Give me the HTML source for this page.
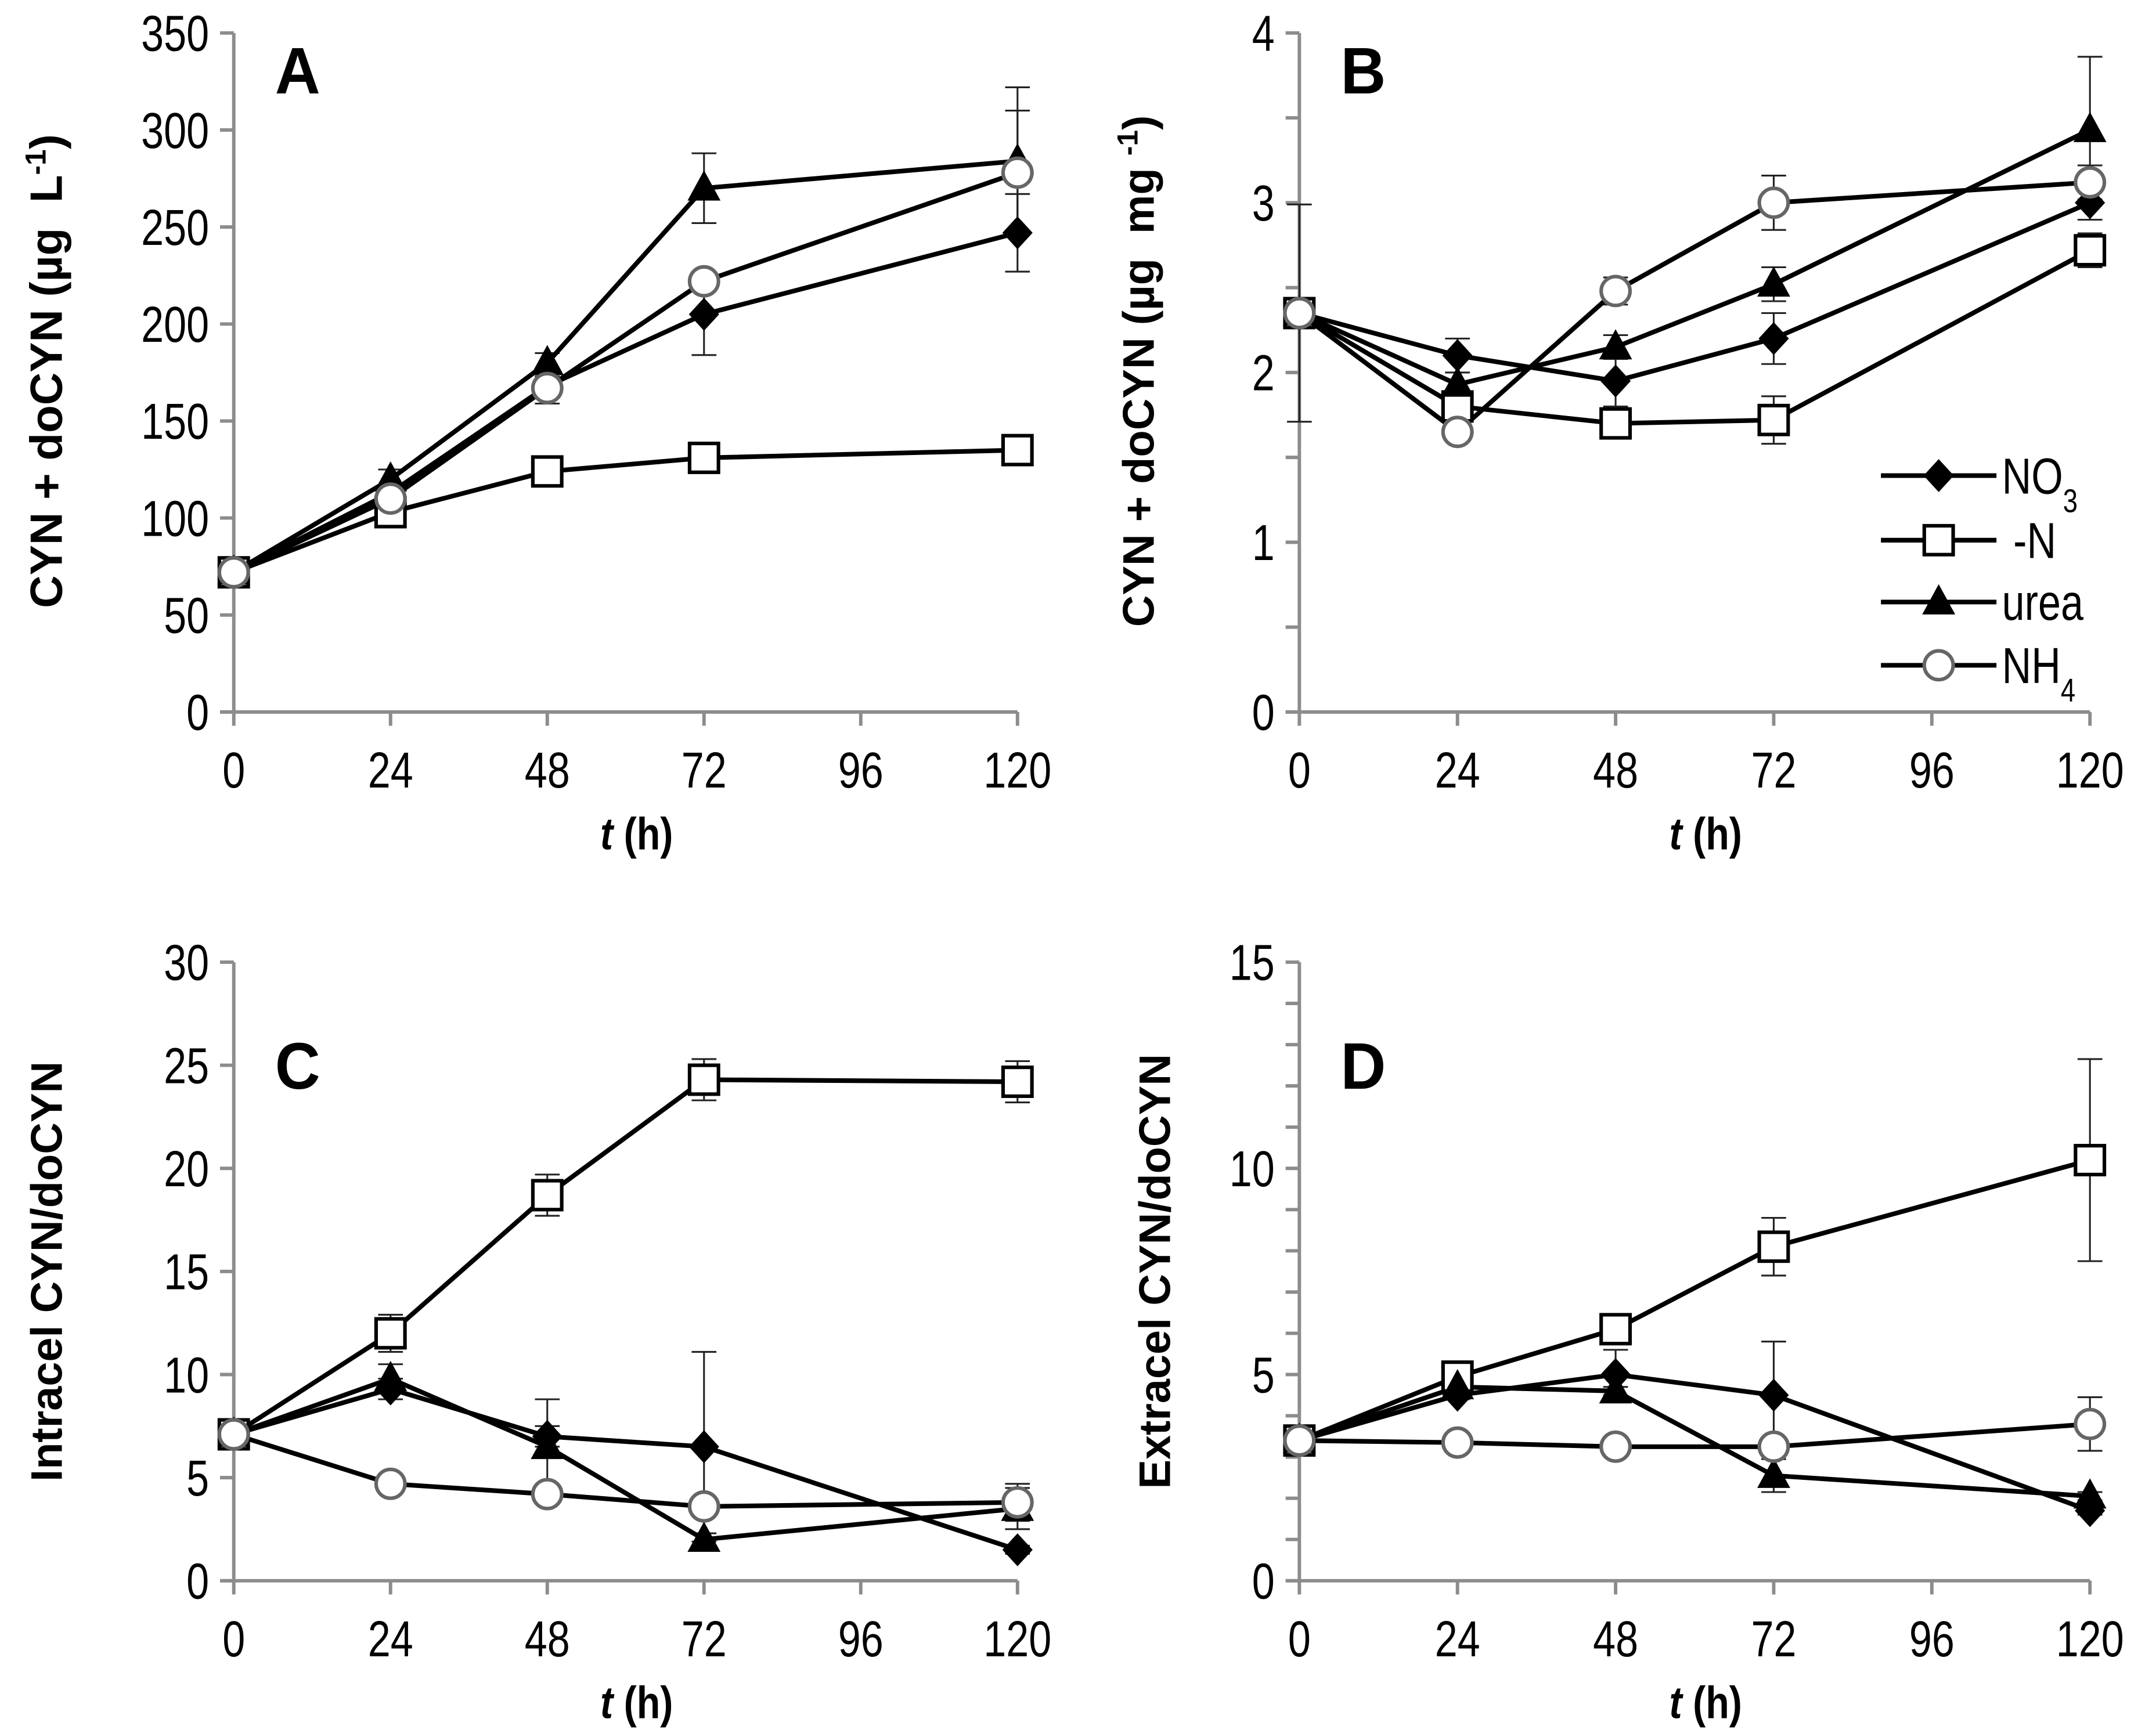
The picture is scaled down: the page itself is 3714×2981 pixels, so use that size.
<!DOCTYPE html>
<html><head><meta charset="utf-8"><style>
html,body{margin:0;padding:0;background:#fff;}
svg{display:block;}
text{font-family:"Liberation Sans",Arial,sans-serif;}
</style></head><body>
<svg id="fig" width="3714" height="2981" viewBox="0 0 1568 1258.6" xmlns="http://www.w3.org/2000/svg"></svg>
<script>
const timesH = [0,24,48,72,120];
const xTicks = [0,24,48,72,96,120];
const seriesNames = ["NO3","-N","urea","NH4"];
// Panel A
const aNO3 = [72,113,168,205,247];
const aN = [72,103,124,131,135];
const aUrea = [72,120,180,270,284];
const aNH4 = [72,110,167,222,278];
const aNO3Err = [0,3,5,21,20];
const aNErr = [0,2,3,3,3];
const aUreaErr = [0,5,5,18,38];
const aNH4Err = [0,3,8,4,32];
const aTicks = [0,50,100,150,200,250,300,350];
// Panel B
const bNO3 = [2.35,2.1,1.95,2.2,3.0];
const bN = [2.35,1.8,1.7,1.72,2.72];
const bUrea = [2.35,1.93,2.15,2.52,3.43];
const bNH4 = [2.35,1.65,2.48,3.0,3.12];
const bNO3Err = [0.64,0.1,0.15,0.15,0.1];
const bNErr = [0,0.1,0.05,0.14,0.1];
const bUreaErr = [0,0.07,0.07,0.1,0.43];
const bNH4Err = [0,0.05,0.08,0.16,0.1];
const bTicks = [0,1,2,3,4];
// Panel C
const cNO3 = [7.1,9.3,7.0,6.5,1.5];
const cN = [7.1,12.0,18.7,24.3,24.2];
const cUrea = [7.1,9.8,6.5,2.0,3.5];
const cNH4 = [7.1,4.7,4.2,3.6,3.8];
const cNO3Err = [0,0.5,0.5,4.6,0.2];
const cNErr = [0,0.9,1.0,1.0,1.0];
const cUreaErr = [0,0.7,2.3,0.3,1.0];
const cNH4Err = [0,0.2,0.3,0.3,0.9];
const cTicks = [0,5,10,15,20,25,30];
// Panel D
const dNO3 = [3.4,4.5,5.0,4.5,1.7];
const dN = [3.4,4.95,6.1,8.1,10.2];
const dUrea = [3.4,4.7,4.6,2.55,2.05];
const dNH4 = [3.4,3.35,3.25,3.25,3.8];
const dNO3Err = [0,0.1,0.6,1.3,0.1];
const dNErr = [0,0.1,0.2,0.7,2.45];
const dUreaErr = [0,0.1,0.1,0.4,0.1];
const dNH4Err = [0,0.05,0.05,0.1,0.65];
const dTicks = [0,5,10,15];

const NS = "http://www.w3.org/2000/svg";
const svg = document.getElementById('fig');
function mk(tag, attrs, parent){
  const e = document.createElementNS(NS, tag);
  for (const k in attrs) e.setAttribute(k, attrs[k]);
  (parent||svg).appendChild(e);
  return e;
}
const GRAY = "#8c8c8c";
function ntext(x, y, anchor, size, parent){
  return mk('text', {x:0, y:0, 'font-size':size, 'text-anchor':anchor, fill:'#000', transform:`translate(${x},${y}) scale(0.8,1)`}, parent);
}

function drawPanel(p){
  const g = mk('g', {});
  
  
  const xS = t => p.x0 + (p.x1 - p.x0) * t / 120;
  const yS = v => p.y0 - (p.y0 - p.yTop) * v / p.yMax;
  const ya = mk('line', {x1:p.x0, y1:p.y0, x2:p.x0, y2:p.yTop, stroke:GRAY, 'stroke-width':2.5}, g);
  
  
  const xa = mk('line', {x1:p.x0-10, y1:p.y0, x2:p.x1, y2:p.y0, stroke:GRAY, 'stroke-width':2.5}, g);
  
  
  for (let v = 0; v <= p.yMax + 1e-9; v += p.minor) {
    mk('line', {x1:p.x0-10, y1:yS(v), x2:p.x0, y2:yS(v), stroke:GRAY, 'stroke-width':2.5}, g);
  }
  p.ticks.forEach(v => {
    const t = ntext(p.x0-18, yS(v)+13, 'end', 37, g);
    t.textContent = v;
    
    
  });
  xTicks.forEach(v => {
    mk('line', {x1:xS(v), y1:p.y0, x2:xS(v), y2:p.y0+10, stroke:GRAY, 'stroke-width':2.5}, g);
    const t = ntext(xS(v), p.y0+55, 'middle', 37, g);
    t.textContent = v;
    
    
  });
  const xt = mk('text', {x:0, y:0, 'font-size':33, 'font-weight':'bold', 'text-anchor':'middle', transform:`translate(${(p.x0+p.x1)/2+8},${p.y0+100}) scale(0.85,1)`}, g);
  xt.innerHTML = '<tspan font-style="italic">t</tspan> (h)';
  
  
  const yt = mk('text', {x:0, y:0, 'font-size':p.yTitleSize, 'font-weight':'bold', 'text-anchor':'middle', transform:`translate(${p.yTitleX},${p.yTitleY}) rotate(-90)`}, g);
  yt.innerHTML = p.yTitle;
  
  
  const lt = mk('text', {x:0, y:0, 'font-size':48, 'font-weight':'bold', transform:`translate(${p.x0+30},${p.letterY}) scale(0.95,1)`}, g);
  lt.textContent = p.letter;
  
  

  p.series.forEach((s, si) => {
    s.vals.forEach((v, i) => {
      const e = s.err[i]; if (!e) return;
      const x = xS(timesH[i]);
      const eb = mk('path', {d:`M${x},${yS(v+e)}V${yS(Math.max(0,v-e))}M${x-9},${yS(v+e)}H${x+9}M${x-9},${yS(Math.max(0,v-e))}H${x+9}`, stroke:'#222', 'stroke-width':1.3, fill:'none'}, g);
      
      
    });
  });
  p.series.forEach((s, si) => {
    const d = s.vals.map((v,i) => (i?'L':'M') + xS(timesH[i]) + ',' + yS(v)).join('');
    const ln = mk('path', {d, stroke:'#000', 'stroke-width':3.4, fill:'none'}, g);
    
    
  });
  p.series.forEach((s, si) => {
    s.vals.forEach((v, i) => {
      const m = marker(si, xS(timesH[i]), yS(v), g);
      
      
    });
  });
}
function marker(si, x, y, parent){
  if (si === 0) return mk('path', {d:`M${x},${y-12}L${x+11},${y}L${x},${y+12}L${x-11},${y}Z`, fill:'#000'}, parent);
  if (si === 1) return mk('rect', {x:x-10.5, y:y-10.5, width:21, height:21, fill:'#fff', stroke:'#000', 'stroke-width':2.6}, parent);
  if (si === 2) return mk('path', {d:`M${x},${y-13}L${x+12},${y+9}L${x-12},${y+9}Z`, fill:'#000'}, parent);
  return mk('circle', {cx:x, cy:y, r:10.5, fill:'#fff', stroke:'#666', 'stroke-width':2.6}, parent);
}
function S(v,e){return {vals:v, err:e};}

drawPanel({letter:'A', x0:170, x1:740, y0:518, yTop:24, yMax:350, minor:50, ticks:aTicks, letterY:68, yTitleSize:33,
  yTitle:'CYN + doCYN (µg&#160;&#160;L<tspan baseline-shift="super" font-size="21">-1</tspan>)', yTitleX:45, yTitleY:270,
  series:[S(aNO3,aNO3Err),S(aN,aNErr),S(aUrea,aUreaErr),S(aNH4,aNH4Err)]});
drawPanel({letter:'B', x0:945, x1:1520, y0:518, yTop:24, yMax:4, minor:0.5, ticks:bTicks, letterY:68, yTitleSize:32,
  yTitle:'CYN + doCYN (µg&#160;&#160;mg&#160;<tspan baseline-shift="super" font-size="21">-1</tspan>)', yTitleX:839, yTitleY:270,
  series:[S(bNO3,bNO3Err),S(bN,bNErr),S(bUrea,bUreaErr),S(bNH4,bNH4Err)]});
drawPanel({letter:'C', x0:170, x1:740, y0:1150, yTop:700, yMax:30, minor:5, ticks:cTicks, letterY:792, yTitleSize:32,
  yTitle:'Intracel CYN/doCYN', yTitleX:45, yTitleY:925,
  series:[S(cNO3,cNO3Err),S(cN,cNErr),S(cUrea,cUreaErr),S(cNH4,cNH4Err)]});
drawPanel({letter:'D', x0:945, x1:1520, y0:1150, yTop:700, yMax:15, minor:1, ticks:dTicks, letterY:792, yTitleSize:32,
  yTitle:'Extracel CYN/doCYN', yTitleX:851, yTitleY:925,
  series:[S(dNO3,dNO3Err),S(dN,dNErr),S(dUrea,dUreaErr),S(dNH4,dNH4Err)]});

const legendLabels = ['NO<tspan baseline-shift="sub" font-size="24">3</tspan>','&#160;-N','urea','NH<tspan baseline-shift="sub" font-size="24">4</tspan>'];
const legendRows = [346,393,438,484];
const lg = mk('g', {});


legendRows.forEach((y, si) => {
  const row = mk('g', {}, lg);
  
  
  mk('line', {x1:1368, y1:y, x2:1452, y2:y, stroke:'#000', 'stroke-width':3.4}, row);
  marker(si, 1410, y, row);
  const t = ntext(1456, y+13, 'start', 37, row);
  t.innerHTML = legendLabels[si];
});
</script>
</body></html>
